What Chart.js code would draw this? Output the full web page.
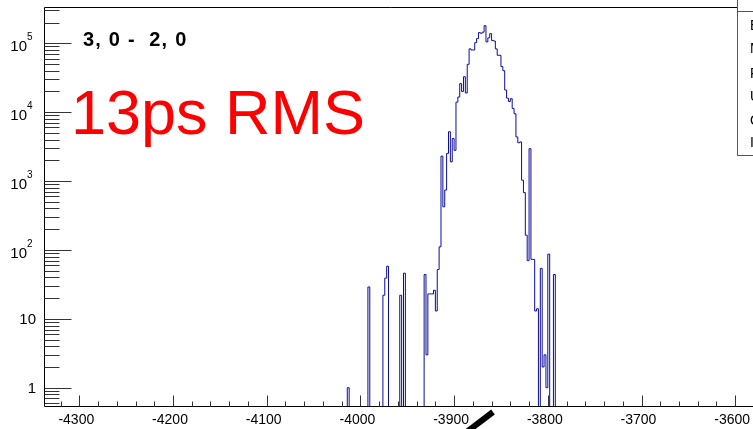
<!DOCTYPE html>
<html>
<head>
<meta charset="utf-8">
<script src="https://cdn.jsdelivr.net/npm/chart.js@4.4.1/dist/chart.umd.min.js"></script>
<style>
  html, body { margin: 0; padding: 0; background: #fff; }
  canvas { display: block; }
</style>
</head>
<body>
<canvas id="hist" width="753" height="429"></canvas>
<script>
// histogram bins (low edge, 2 units wide) that have entries; all other bins are empty
const binLow = [
  -4012, -3990, -3974, -3972, -3970, -3956, -3952,
  -3930, -3928, -3926, -3924, -3922, -3920, -3918, -3916, -3914,
  -3912, -3910, -3908, -3906, -3904, -3902, -3900, -3898,
  -3896, -3894, -3892, -3890, -3888, -3886, -3884, -3882, -3880, -3878,
  -3876, -3874, -3872, -3870, -3868, -3866, -3864, -3862, -3860, -3858,
  -3856, -3854, -3852, -3850, -3848, -3846, -3844, -3842, -3840, -3838,
  -3836, -3834, -3832, -3830, -3828, -3826, -3824, -3822, -3820, -3818,
  -3816, -3814, -3812, -3810, -3806, -3804, -3802, -3800, -3798, -3792
];
const binCounts = [
  1, 29, 22, 39, 58, 22, 46,
  44, 3, 23, 23, 23, 26, 13, 52, 111,
  2300, 423, 740, 2520, 5200, 1900, 4150, 2800,
  14000, 16600, 26000, 20000, 32700, 19000, 49500, 83000, 80000, 80000,
  102000, 117000, 143000, 140000, 145000, 180000, 105000, 120000, 138000, 110000,
  108000, 83000, 67000, 67000, 46000, 40000, 21000, 16000, 14300, 15700,
  11300, 9500, 4370, 3600, 3700, 1030, 680, 164, 70, 2950,
  73, 73, 13, 14, 54, 2, 3, 1, 87, 44
];
const binWidth = 2;
const histFrom = -4340;
const histTo = -3580;

const xMajorTicks = [-4300, -4200, -4100, -4000, -3900, -3800, -3700, -3600];
const yMajorTicks = [1, 10, 100, 1000, 10000, 100000];
const yTickBase = ['1', '10', '10', '10', '10', '10'];
const yTickExp = ['', '', '2', '3', '4', '5'];

const labelTitle = '3, 0 -  2, 0';
const labelRms = '13ps RMS';
const statNames = ['Entries', 'Mean', 'RMS', 'Underflow', 'Overflow', 'Integral'];

// full stepped outline, empty bins pushed below the axis (clipped)
const lookup = {};
binLow.forEach((b, i) => { lookup[b] = binCounts[i]; });
const points = [];
for (let e = histFrom; e < histTo; e += binWidth) {
  points.push({ x: e, y: lookup[e] || 0.1 });
}
points.push({ x: histTo, y: 0.1 });

const rootDecor = {
  id: 'rootDecor',
  afterDraw(chart) {
    const { ctx, chartArea: a, scales: { x, y } } = chart;
    const bottom = Math.round(a.bottom) - 0.5;
    const left = Math.round(a.left) + 0.5;
    const top = Math.round(a.top) + 0.5;
    ctx.save();

    // frame
    ctx.strokeStyle = '#000';
    ctx.lineWidth = 1;
    ctx.beginPath();
    ctx.moveTo(left, bottom);
    ctx.lineTo(left, top);
    ctx.lineTo(737, top);
    ctx.moveTo(left, bottom);
    ctx.lineTo(a.right, bottom);
    ctx.stroke();

    // x ticks
    ctx.strokeStyle = '#333';
    ctx.beginPath();
    for (let v = -4320; v <= -3580; v += 20) {
      const px = Math.round(x.getPixelForValue(v)) + 0.5;
      if (px < a.left || px > a.right) continue;
      const len = (v % 100 === 0) ? 11 : 5;
      ctx.moveTo(px, bottom);
      ctx.lineTo(px, bottom - len);
    }
    // y ticks
    for (let d = -1; d <= 5; d++) {
      for (let k = 1; k <= 9; k++) {
        const v = k * Math.pow(10, d);
        if (v < y.min || v > y.max) continue;
        const py = Math.round(y.getPixelForValue(v)) + 0.5;
        const len = (k === 1) ? 27 : 15;
        ctx.moveTo(left, py);
        ctx.lineTo(left + len, py);
      }
    }
    ctx.stroke();

    // x labels
    ctx.fillStyle = '#000';
    ctx.font = '14px "Liberation Sans", Arial, sans-serif';
    ctx.textAlign = 'center';
    ctx.textBaseline = 'alphabetic';
    xMajorTicks.forEach(v => {
      const px = x.getPixelForValue(v);
      ctx.fillText(String(v), px - 3, 424);
    });

    // y labels
    yMajorTicks.forEach((v, i) => {
      const py = y.getPixelForValue(v);
      if (yTickExp[i] === '') {
        ctx.font = '15px "Liberation Sans", Arial, sans-serif';
        ctx.textAlign = 'right';
        ctx.fillText(yTickBase[i], 36, py + 5.5);
      } else {
        ctx.font = '15px "Liberation Sans", Arial, sans-serif';
        ctx.textAlign = 'right';
        ctx.fillText(yTickBase[i], 27, py + 8);
        ctx.font = '10px "Liberation Sans", Arial, sans-serif';
        ctx.textAlign = 'left';
        ctx.fillText(yTickExp[i], 27, py - 3);
      }
    });

    // annotations
    ctx.textAlign = 'left';
    ctx.font = 'bold 20px "Liberation Sans", Arial, sans-serif';
    ctx.letterSpacing = '1.2px';
    ctx.fillText(labelTitle, 83, 46);
    ctx.letterSpacing = '0px';
    ctx.fillStyle = '#ff0000';
    ctx.font = '63px "Liberation Sans", Arial, sans-serif';
    ctx.fillText(labelRms, 71, 134);

    // stats box (mostly outside the window)
    ctx.fillStyle = '#fff';
    ctx.fillRect(737, 0, 16, 155);
    ctx.strokeStyle = '#555';
    ctx.beginPath();
    ctx.moveTo(737.5, 0);
    ctx.lineTo(737.5, 155.5);
    ctx.lineTo(753, 155.5);
    ctx.moveTo(737.5, 11.5);
    ctx.lineTo(753, 11.5);
    ctx.stroke();
    ctx.fillStyle = '#000';
    ctx.font = '14px "Liberation Sans", Arial, sans-serif';
    [30, 53, 78, 101, 125, 147].forEach((by, i) => {
      ctx.fillText(statNames[i], 750, by);
    });

    // black marker stroke at the bottom
    ctx.strokeStyle = '#000';
    ctx.lineWidth = 6;
    ctx.lineCap = 'butt';
    ctx.beginPath();
    ctx.moveTo(464, 434);
    ctx.lineTo(493, 412);
    ctx.stroke();

    ctx.restore();
  }
};

new Chart(document.getElementById('hist'), {
  type: 'line',
  data: {
    datasets: [{
      data: points,
      stepped: 'after',
      borderColor: '#0c0c9c',
      borderWidth: 1,
      pointRadius: 0,
      fill: false,
      clip: 0
    }]
  },
  options: {
    responsive: false,
    animation: false,
    devicePixelRatio: 1,
    layout: { padding: { left: 44, top: 7, right: 0, bottom: 22 } },
    plugins: { legend: { display: false }, tooltip: { enabled: false } },
    scales: {
      x: { type: 'linear', min: -4337.7, max: -3581, display: false },
      y: { type: 'logarithmic', min: 0.525, max: 336500, display: false }
    }
  },
  plugins: [rootDecor]
});
</script>
</body>
</html>
